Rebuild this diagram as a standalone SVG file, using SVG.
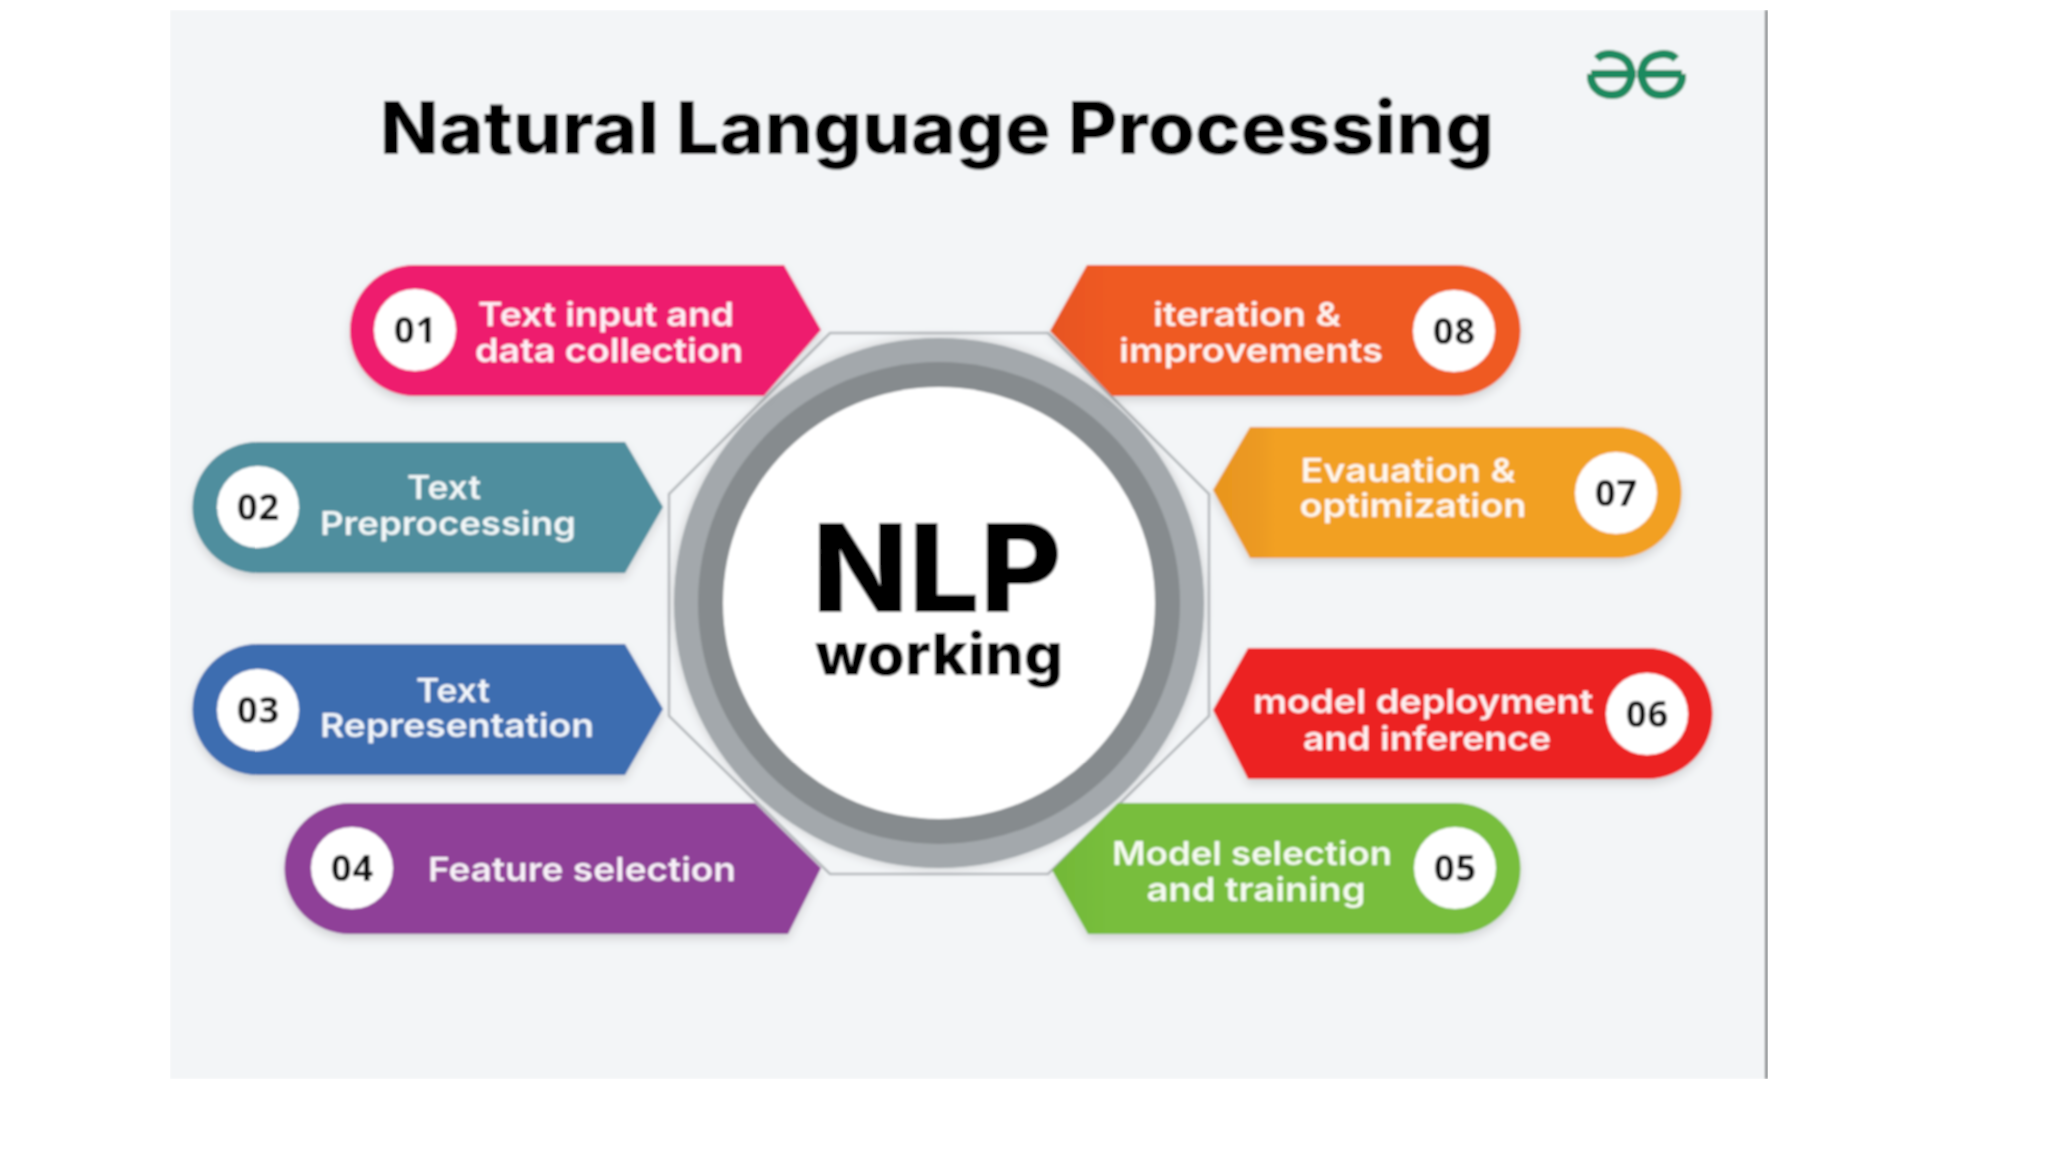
<svg xmlns="http://www.w3.org/2000/svg" width="2048" height="1152" viewBox="0 0 2048 1152">
<defs>
<style>
.lbl{font-family:Inter,"Open Sans",sans-serif;font-weight:600;font-size:32px;fill:#fff;fill-opacity:.93;text-anchor:middle}
.num{font-family:"Noto Sans","Open Sans",sans-serif;font-weight:700;font-size:36px;fill:#0a0a0a;text-anchor:middle}
.head{font-family:Inter,"Liberation Sans",sans-serif;font-weight:800;fill:#060606;text-anchor:middle}
.dot{fill:#fff}
.pill{filter:url(#sh)}
.logo{fill:none;stroke:#1f8a5f;stroke-width:8}
</style>
<linearGradient id="g7"><stop offset="0" stop-color="#e8951f"/><stop offset=".1" stop-color="#ec9a21"/><stop offset=".13" stop-color="#f2a024"/></linearGradient>
<linearGradient id="g8"><stop offset="0" stop-color="#e6541f"/><stop offset=".12" stop-color="#ef5a24"/></linearGradient>
<linearGradient id="g5"><stop offset="0" stop-color="#72b838"/><stop offset=".12" stop-color="#78be3c"/></linearGradient>
<filter id="soft" x="0" y="0" width="100%" height="100%"><feGaussianBlur stdDeviation="0.8"/></filter>
<filter id="sh" x="-10%" y="-20%" width="120%" height="150%"><feDropShadow dx="0" dy="5" stdDeviation="4" flood-color="#000" flood-opacity=".13"/></filter>
<filter id="rs" x="-10%" y="-10%" width="120%" height="120%"><feDropShadow dx="0" dy="0" stdDeviation="5" flood-color="#000" flood-opacity=".18"/></filter>
</defs>
<rect width="2048" height="1152" fill="#fff"/>
<g filter="url(#soft)">
<rect id="background" x="170" y="10" width="1596" height="1069" fill="#f3f5f7"/>
<rect id="edge" x="1765" y="10" width="2.5" height="1069" fill="#6f7376"/>
<text id="title" class="head" x="937" y="154" font-size="73" textLength="1114" lengthAdjust="spacingAndGlyphs">Natural Language Processing</text>
<g id="logo">
<path class="logo" d="M1591 74H1636M1597 59C1604 51 1623 53 1629 64C1635 76 1629 95 1612 95C1598 95 1590 85 1591 74"/>
<path class="logo" d="M1682 74H1637M1676 59C1669 51 1650 53 1644 64C1638 76 1644 95 1661 95C1675 95 1683 85 1682 74"/>
</g>
<g id="connectors">
<polygon points="830,333 1048,333 1209,494 1209,716 1048,874 830,874 669,716 669,494" fill="none" stroke="#b4b8bb" stroke-width="2.5"/>
</g>
<g id="hub">
<circle cx="939" cy="603" r="265" fill="#a3a8ac" filter="url(#rs)"/>
<circle cx="939" cy="603" r="241" fill="#868b8e"/>
<circle cx="939" cy="603" r="216" fill="#fff"/>
<text class="head" x="937" y="612" font-size="122" textLength="250" lengthAdjust="spacingAndGlyphs">NLP</text>
<text class="head" x="939" y="675" font-size="58" textLength="248" lengthAdjust="spacingAndGlyphs">working</text>
</g>
<g id="node-01">
<path class="pill" d="M415 265H784L821 330L764 396H415A65 65.500 0 0 1 415 265Z" fill="#ee1c6e"/>
<circle class="dot" cx="415" cy="330" r="41"/>
<text class="num" x="415" y="343" textLength="42">01</text>
<text class="lbl" x="606" y="326" textLength="256" lengthAdjust="spacingAndGlyphs">Text input and</text>
<text class="lbl" x="609" y="362" textLength="268" lengthAdjust="spacingAndGlyphs">data collection</text>
</g>
<g id="node-02">
<path class="pill" d="M258 442H625L663 507L625 573H258A65.500 65.500 0 0 1 258 442Z" fill="#4f8e9e"/>
<circle class="dot" cx="258" cy="507" r="41"/>
<text class="num" x="258" y="520" textLength="42">02</text>
<text class="lbl" x="444" y="499" textLength="74" lengthAdjust="spacingAndGlyphs">Text</text>
<text class="lbl" x="448" y="535" textLength="256" lengthAdjust="spacingAndGlyphs">Preprocessing</text>
</g>
<g id="node-03">
<path class="pill" d="M258 644H625L663 709L625 775H258A65.500 65.500 0 0 1 258 644Z" fill="#3c6db0"/>
<circle class="dot" cx="258" cy="710" r="41"/>
<text class="num" x="258" y="723" textLength="42">03</text>
<text class="lbl" x="453" y="702" textLength="74" lengthAdjust="spacingAndGlyphs">Text</text>
<text class="lbl" x="457" y="737" textLength="274" lengthAdjust="spacingAndGlyphs">Representation</text>
</g>
<g id="node-04">
<path class="pill" d="M350 803H755L821 868L788 934H350A65.500 65.500 0 0 1 350 803Z" fill="#8f3f98"/>
<circle class="dot" cx="352" cy="868" r="41"/>
<text class="num" x="352" y="881" textLength="42">04</text>
<text class="lbl" x="582" y="881" textLength="308" lengthAdjust="spacingAndGlyphs">Feature selection</text>
</g>
<g id="node-05">
<path class="pill" d="M1455 803H1118L1052 870L1088 934H1455A65.500 65.500 0 0 0 1455 803Z" fill="url(#g5)"/>
<circle class="dot" cx="1455" cy="868" r="41"/>
<text class="num" x="1455" y="881" textLength="42">05</text>
<text class="lbl" x="1252" y="865" textLength="280" lengthAdjust="spacingAndGlyphs">Model selection</text>
<text class="lbl" x="1256" y="901" textLength="219" lengthAdjust="spacingAndGlyphs">and training</text>
</g>
<g id="node-06">
<path class="pill" d="M1647 648H1248L1213 710L1248 779H1647A65.500 65.500 0 0 0 1647 648Z" fill="#ec2024"/>
<circle class="dot" cx="1647" cy="714" r="41"/>
<text class="num" x="1647" y="727" textLength="42">06</text>
<text class="lbl" x="1423" y="713" textLength="340" lengthAdjust="spacingAndGlyphs">model deployment</text>
<text class="lbl" x="1427" y="750" textLength="248" lengthAdjust="spacingAndGlyphs">and inference</text>
</g>
<g id="node-07">
<path class="pill" d="M1616 427H1250L1213 490L1250 558H1616A65.500 65.500 0 0 0 1616 427Z" fill="url(#g7)"/>
<circle class="dot" cx="1616" cy="493" r="41"/>
<text class="num" x="1616" y="506" textLength="42">07</text>
<text class="lbl" x="1408" y="482" textLength="215" lengthAdjust="spacingAndGlyphs">Evauation &amp;</text>
<text class="lbl" x="1413" y="517" textLength="227" lengthAdjust="spacingAndGlyphs">optimization</text>
</g>
<g id="node-08">
<path class="pill" d="M1455 265H1087L1050 331L1112 396H1455A65.500 65.500 0 0 0 1455 265Z" fill="url(#g8)"/>
<circle class="dot" cx="1454" cy="331" r="41"/>
<text class="num" x="1454" y="344" textLength="42">08</text>
<text class="lbl" x="1247" y="326" textLength="188" lengthAdjust="spacingAndGlyphs">iteration &amp;</text>
<text class="lbl" x="1251" y="362" textLength="264" lengthAdjust="spacingAndGlyphs">improvements</text>
</g>
</g>
</svg>
